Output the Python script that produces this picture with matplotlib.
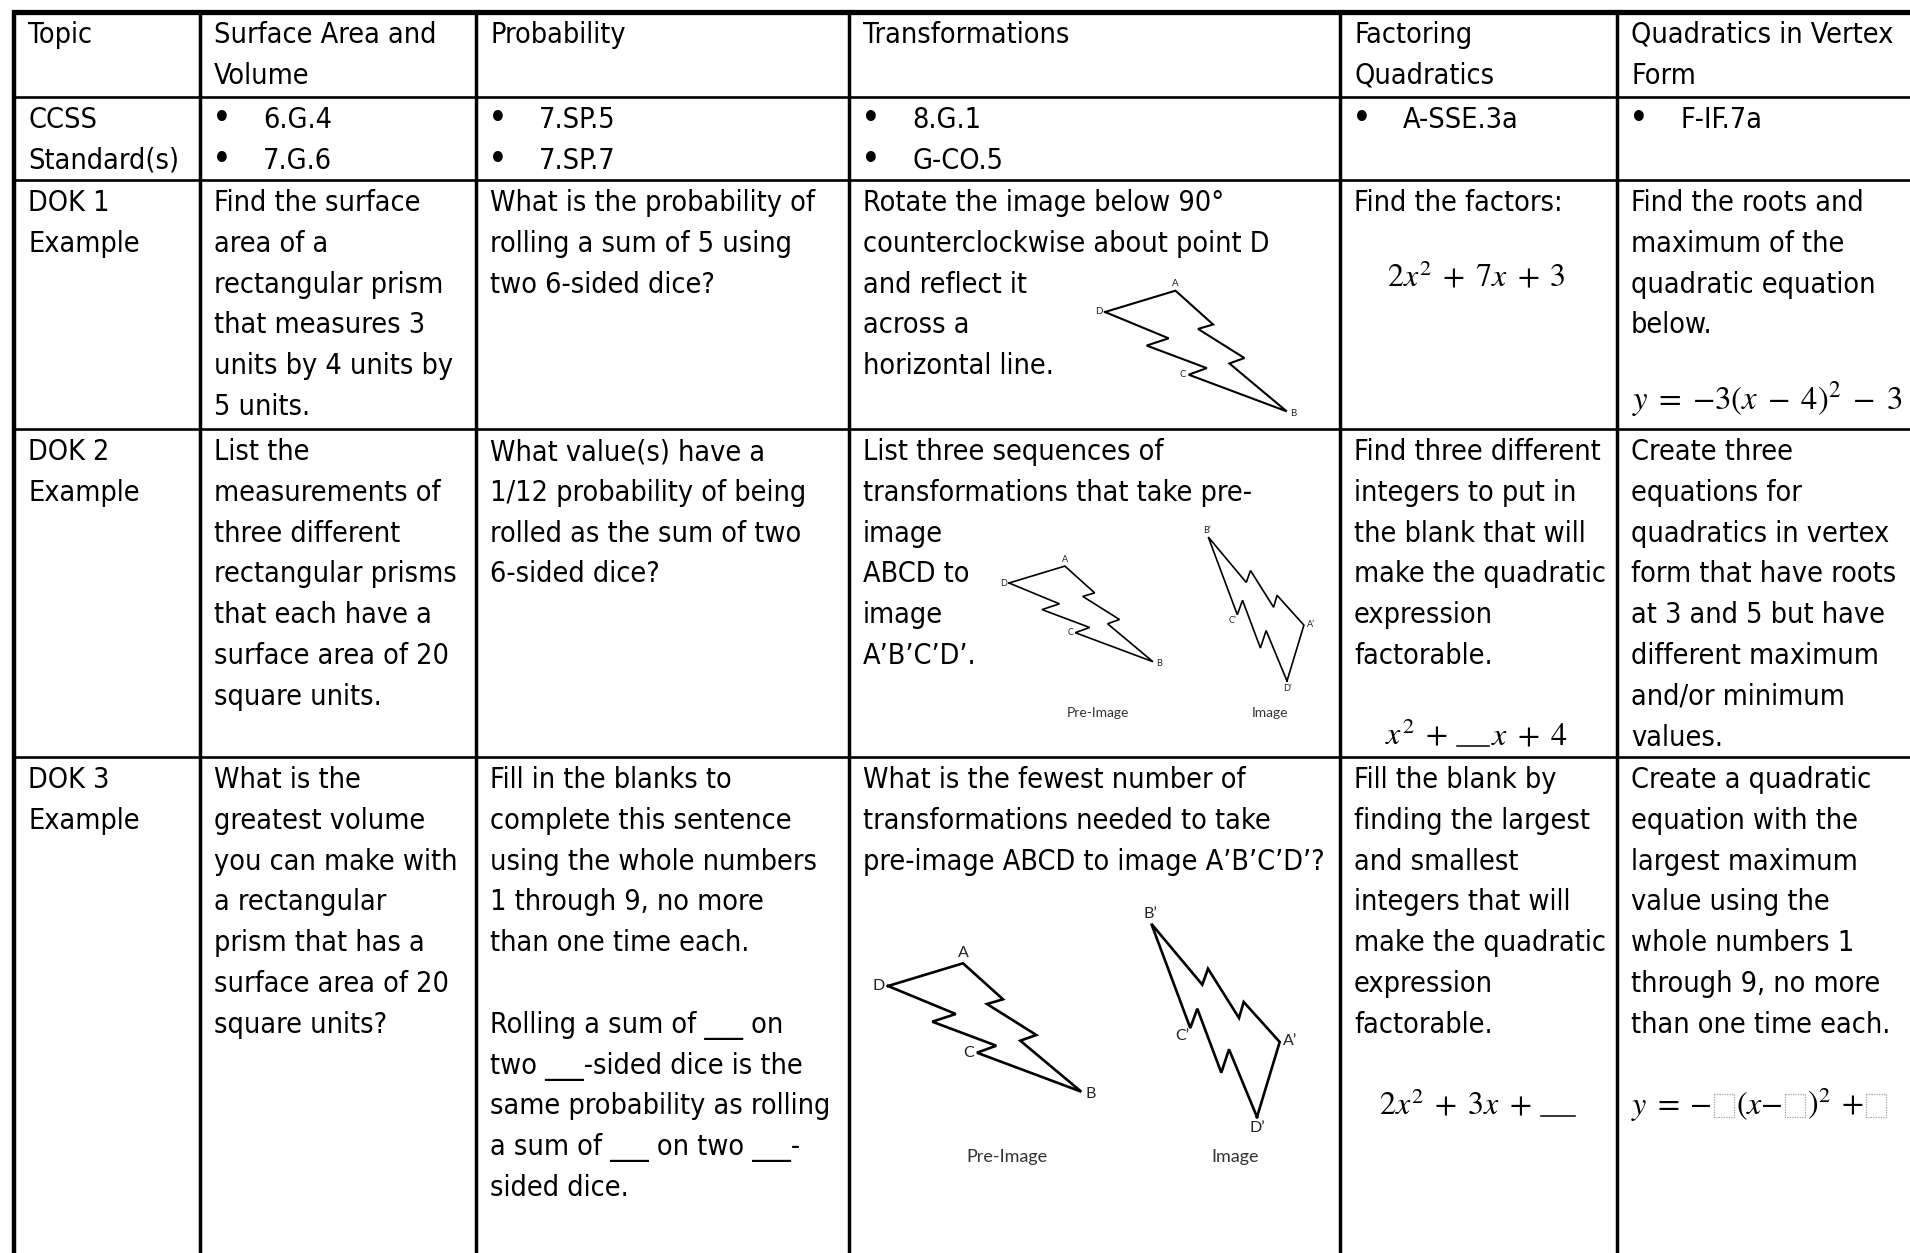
import matplotlib
matplotlib.use('Agg')
from matplotlib import pyplot as plt
from matplotlib import font_manager
from matplotlib.font_manager import FontProperties
from matplotlib.patches import Rectangle

W, H = 1910, 1253

# table grid (pixels)
col_x = [14, 200, 476, 849, 1340, 1617]
row_y = [12, 97, 180, 429, 757]
LINE = 40.8
PAD = 14

# ---- table text ----
row_heads = [["Topic"], ["CCSS", "Standard(s)"], ["DOK 1", "Example"],
             ["DOK 2", "Example"], ["DOK 3", "Example"]]

topics = [["Surface Area and", "Volume"], ["Probability"], ["Transformations"],
          ["Factoring", "Quadratics"], ["Quadratics in Vertex", "Form"]]

standards = [["6.G.4", "7.G.6"], ["7.SP.5", "7.SP.7"], ["8.G.1", "G-CO.5"],
             ["A-SSE.3a"], ["F-IF.7a"]]

dok1 = [["Find the surface", "area of a", "rectangular prism", "that measures 3",
         "units by 4 units by", "5 units."],
        ["What is the probability of", "rolling a sum of 5 using", "two 6-sided dice?"],
        ["Rotate the image below 90°", "counterclockwise about point D",
         "and reflect it", "across a", "horizontal line."],
        ["Find the factors:"],
        ["Find the roots and", "maximum of the", "quadratic equation", "below."]]

dok2 = [["List the", "measurements of", "three different", "rectangular prisms",
         "that each have a", "surface area of 20", "square units."],
        ["What value(s) have a", "1/12 probability of being",
         "rolled as the sum of two", "6-sided dice?"],
        ["List three sequences of", "transformations that take pre-", "image",
         "ABCD to", "image", "A’B’C’D’."],
        ["Find three different", "integers to put in", "the blank that will",
         "make the quadratic", "expression", "factorable."],
        ["Create three", "equations for", "quadratics in vertex", "form that have roots",
         "at 3 and 5 but have", "different maximum", "and/or minimum", "values."]]

dok3 = [["What is the", "greatest volume", "you can make with", "a rectangular",
         "prism that has a", "surface area of 20", "square units?"],
        ["Fill in the blanks to", "complete this sentence", "using the whole numbers",
         "1 through 9, no more", "than one time each.", "",
         "Rolling a sum of ___ on", "two ___-sided dice is the",
         "same probability as rolling", "a sum of ___ on two ___-", "sided dice."],
        ["What is the fewest number of", "transformations needed to take",
         "pre-image ABCD to image A’B’C’D’?"],
        ["Fill the blank by", "finding the largest", "and smallest", "integers that will",
         "make the quadratic", "expression", "factorable."],
        ["Create a quadratic", "equation with the", "largest maximum", "value using the",
         "whole numbers 1", "through 9, no more", "than one time each."]]

factor1 = r"$2x^2 \;+\; 7x \;+\; 3$"
vertex1 = r"$y \;=\; {-}3(x \;-\; 4)^2 \;-\; 3$"
factor2 = [r"$x^2 \;+$", ("gap", 9), ("blank", 32), r"$x \;+\; 4$"]
factor3 = [r"$2x^2 \;+\; 3x \;+$", ("gap", 9), ("blank", 34)]
vertex3 = [r"$y \;=\; {-}$", ("box",), r"$(x{-}$", ("box",), r"$)^2 \;+$", ("box",)]

# lightning bolt ABCD, relative to D (pixels at full size)
bolt_x = [0, 75, 115, 99, 148.3, 132.3, 193.3, 89, 108.3, 44.3, 67.7, 0]
bolt_y = [0, -22.7, 13.3, 18, 49, 54.7, 105.7, 66.7, 59.7, 35.7, 28, 0]
bolt_names = ["D", "A", "B", "C"]
bolt_idx = [0, 1, 6, 7]

# ---- fonts ----
plt.rcParams['mathtext.fontset'] = 'stix'
cond = [f.fname for f in font_manager.fontManager.ttflist
        if f.fname.endswith('DejaVuSansCondensed.ttf')]
if cond:
    body = FontProperties(fname=cond[0], size=20.6)
else:
    body = FontProperties(family='DejaVu Sans', size=18.5)

fig = plt.figure(figsize=(W / 100, H / 100), dpi=100)
ax = fig.add_axes([0, 0, 1, 1])
ax.set_xlim(0, W)
ax.set_ylim(H, 0)
ax.axis('off')
renderer = fig.canvas.get_renderer()


def cell(col, row, lines, first=31):
    x = col_x[col] + PAD
    y0 = row_y[row] + first
    for i, s in enumerate(lines):
        if s:
            ax.text(x, y0 + i * LINE, s, fontproperties=body, va='baseline', ha='left')


def bullets(col, row, items):
    y0 = row_y[row] + 31
    for i, s in enumerate(items):
        ax.text(col_x[col] + 22, y0 + i * LINE - 8, "•", fontproperties=body,
                fontsize=27, va='center', ha='center')
        ax.text(col_x[col] + 63, y0 + i * LINE, s, fontproperties=body, va='baseline')


def pieces(x, y, parts, size, center=False, bw=20, bh=23):
    # lay pieces of a formula side by side, measuring each one
    items = []
    total = 0
    for p in parts:
        if isinstance(p, str):
            t = ax.text(0, y, p, fontsize=size, va='baseline', ha='left')
            w = t.get_window_extent(renderer).width
            items.append((t, w))
        elif p[0] == "blank":
            items.append((p, p[1] + 2))
        elif p[0] == "gap":
            items.append((p, p[1]))
        else:
            items.append((p, bw + 4))
        total += items[-1][1]
    if center:
        x = x - total / 2
    for it, w in items:
        if hasattr(it, 'set_x'):
            it.set_x(x)
        elif it[0] == "blank":
            ax.plot([x, x + it[1]], [y + 2, y + 2], color='black', lw=1.1)
        elif it[0] == "box":
            ax.add_patch(Rectangle((x + 2, y + 3 - bh), bw, bh, fill=False,
                                   ec='#a0a0a0', lw=0.9, ls=(0, (1, 1))))
        x += w


def bolt(dx, dy, s, image, lw, lab_size):
    if not image:
        xs = [dx + s * a for a in bolt_x]
        ys = [dy + s * b for b in bolt_y]
    else:
        xs = [dx - s * b for b in bolt_y]
        ys = [dy - s * a for a in bolt_x]
    ax.plot(xs, ys, color='black', lw=lw, solid_joinstyle='miter')
    g = s * 3
    if not image:
        # D, A, B, C
        opts = [(-g, 0, 'right', 'center'), (0, -g, 'center', 'bottom'),
                (g * 1.3, g * 0.6, 'left', 'center'), (-g, 0, 'right', 'center')]
    else:
        # D', A', B', C'
        opts = [(0, g * 1.2, 'center', 'top'), (g * 1.2, -g * 0.4, 'left', 'center'),
                (-g * 0.4, -g * 0.8, 'center', 'bottom'), (-g * 0.3, g * 0.4, 'right', 'top')]
    for name, k, (ox, oy, ha, va) in zip(bolt_names, bolt_idx, opts):
        ax.text(xs[k] + ox, ys[k] + oy, name + ("’" if image else ""), family='Lato',
                fontsize=lab_size, ha=ha, va=va, color='#222222')


# ---- text ----
for r, lines in enumerate(row_heads):
    cell(0, r, lines)
for c in range(5):
    cell(c + 1, 0, topics[c])
    bullets(c + 1, 1, standards[c])
    cell(c + 1, 2, dok1[c])
    cell(c + 1, 3, dok2[c])
    cell(c + 1, 4, dok3[c])

ax.text(1476, 286, factor1, fontsize=23, ha='center', va='baseline')
ax.text(1632, 409, vertex1, fontsize=23.5, ha='left', va='baseline')
pieces(1476, 744, factor2, 23, center=True)
pieces(1478, 1114, factor3, 23, center=True)
pieces(1631, 1114, vertex3, 23)

# ---- lightning bolts ----
bolt(1105, 312, 0.94, False, 1.5, 7)
bolt(1009, 583, 0.745, False, 1.2, 6.5)
bolt(1287, 681, 0.745, True, 1.2, 6.5)
ax.text(1098, 713, "Pre-Image", family='Lato', fontsize=10, ha='center', va='center', color='#333333')
ax.text(1270, 713, "Image", family='Lato', fontsize=10, ha='center', va='center', color='#333333')
bolt(888, 986, 1.0, False, 1.9, 11.5)
bolt(1257, 1117, 1.0, True, 1.9, 11.5)
ax.text(1007, 1157, "Pre-Image", family='Lato', fontsize=13, ha='center', va='center', color='#333333')
ax.text(1235, 1157, "Image", family='Lato', fontsize=13, ha='center', va='center', color='#333333')

# ---- grid lines ----
ax.hlines(row_y[1:], col_x[0], W, color='black', lw=1.9)
ax.vlines(col_x[1:], row_y[0], H, color='black', lw=2.5)
ax.vlines(col_x[0], row_y[0] - 2, H, color='black', lw=3.2)
ax.hlines(row_y[0], col_x[0] - 2, W, color='black', lw=3.8)

fig.savefig('out.png', dpi=100, facecolor='white')
